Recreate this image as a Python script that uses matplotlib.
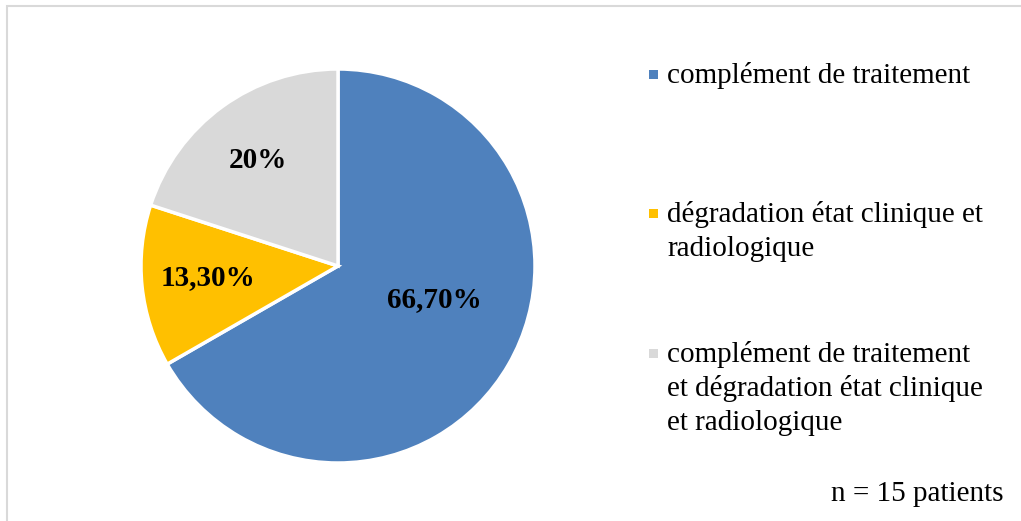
import matplotlib
matplotlib.use("Agg")
import matplotlib.pyplot as plt
from matplotlib.patches import Rectangle

# chart data
categories = ["complément de traitement",
              "dégradation état clinique et\nradiologique",
              "complément de traitement\net dégradation état clinique\net radiologique"]
values = [66.7, 13.3, 20.0]
value_labels = ["66,70%", "13,30%", "20%"]
colors = ["#4F81BD", "#FFC000", "#D9D9D9"]
note = "n = 15 patients"

W, H = 1021, 521
fig = plt.figure(figsize=(W / 100, H / 100), dpi=100)
plt.rcParams['font.family'] = ['Liberation Serif', 'DejaVu Serif']

# outer frame of the chart area (right and bottom edges fall outside)
fig.patches.append(Rectangle((7 / W, -0.05), 1.1, (H - 6) / H + 0.05,
                             transform=fig.transFigure, fill=False,
                             edgecolor="#D9D9D9", linewidth=1.5))

# pie axes: centre (338, 266) px, radius 197 px
cx, cy, r = 338, 266, 197
ax = fig.add_axes([(cx - r) / W, (H - cy - r) / H, 2 * r / W, 2 * r / H])
wedges, _ = ax.pie(values, colors=colors, startangle=90, counterclock=False,
                   wedgeprops=dict(edgecolor="white", linewidth=2.5))
ax.set_xlim(-1, 1)
ax.set_ylim(-1, 1)
ax.set_aspect("equal")
ax.axis("off")

# data labels (positions in pie coordinates)
label_pos = [(0.490, -0.168), (-0.660, -0.061), (-0.406, 0.536)]
for (x, y), lab in zip(label_pos, value_labels):
    ax.text(x, y, lab, ha="center", va="center", fontsize=21,
            fontweight="bold", color="black")

# legend drawn by hand (y = baseline of first line, px from top)
row_y = [83, 222, 362]
line_step = 34
for cat, col, y in zip(categories, colors, row_y):
    fig.patches.append(Rectangle((649 / W, 1 - (y - 4) / H), 9 / W, 9 / H,
                                 transform=fig.transFigure, facecolor=col,
                                 edgecolor="none"))
    for i, line in enumerate(cat.split("\n")):
        fig.text(667 / W, 1 - (y + i * line_step) / H, line, ha="left",
                 va="baseline", fontsize=21, color="black")

fig.text(1003 / W, 1 - 501 / H, note, ha="right", va="baseline",
         fontsize=21, color="black")

fig.savefig("out.png", dpi=100)
